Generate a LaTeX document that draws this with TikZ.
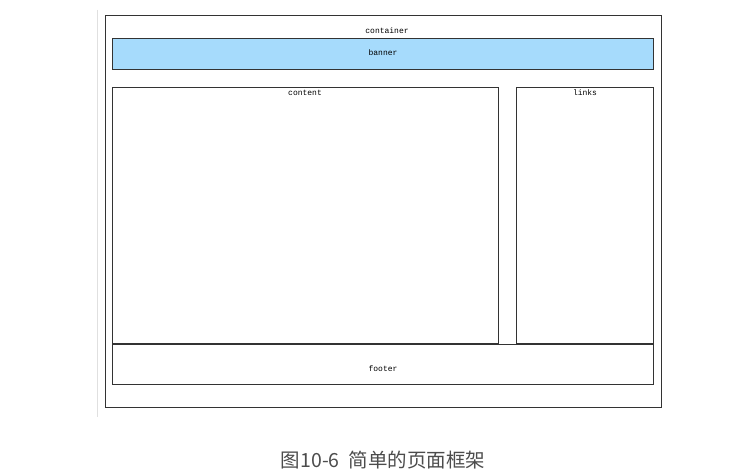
\documentclass[tikz,border=0pt]{standalone}
\usepackage{fontspec}
\setmonofont{Liberation Mono}
\newfontfamily\cjk{Noto Sans CJK SC}
\definecolor{bannerblue}{HTML}{A6DBFC}
\definecolor{edge}{HTML}{333333}
\begin{document}
\begin{tikzpicture}[x=1pt,y=-1pt,
  boxstyle/.style={draw=edge,line width=0.9pt},
  lbl/.style={font=\ttfamily\fontsize{8}{9}\selectfont,inner sep=0pt,text=black}]
\useasboundingbox (0,0) rectangle (755,473);
\fill[white] (0,0) rectangle (755,473);
% faint page edge
\draw[black!12,line width=0.8pt] (97,10) -- (97,417);
% container
\draw[boxstyle] (105,15) rectangle (661,407);
\node[lbl] (contl) at (387,31) {container};
% banner
\draw[boxstyle,fill=bannerblue] (112,38) rectangle (653,69);
\node[lbl] (bannerl) at (383,53) {banner};
% content
\draw[boxstyle] (112,87) rectangle (498,343);
\node[lbl] (contentl) at (305,93) {content};
% links
\draw[boxstyle] (516,87) rectangle (653,343);
\node[lbl] (linksl) at (585,93) {links};
% footer
\draw[boxstyle] (112,344) rectangle (653,384);
\node[lbl] (footerl) at (383,369) {footer};
% caption
\node[inner sep=0pt,font=\cjk\fontsize{19.5}{22}\selectfont,text=black!70] (cap) at (383,460) {图10-6\hspace{9pt}简单的页面框架};
\end{tikzpicture}
\end{document}
